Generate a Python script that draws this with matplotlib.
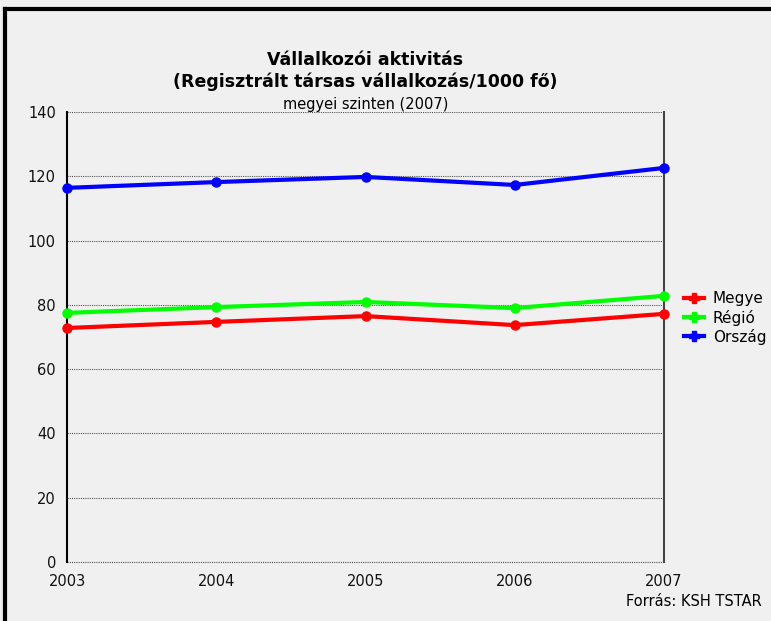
import numpy as np
import matplotlib.pyplot as plt
from matplotlib.lines import Line2D

years = [2003, 2004, 2005, 2006, 2007]
megye = [72.8, 74.7, 76.5, 73.7, 77.2]
regio = [77.5, 79.3, 80.9, 79.0, 82.8]
orszag = [116.4, 118.2, 119.8, 117.3, 122.6]
names = ['Megye', 'Régió', 'Ország']
colors = ['#ff0000', '#00ff00', '#0000ff']

fig = plt.figure(figsize=(7.71, 6.21), dpi=100, facecolor='#f0f0f0')
W, H = 771, 621
ax = fig.add_axes([67 / W, 1 - 562 / H, (664 - 67) / W, (562 - 112) / H])
ax.set_facecolor('#f0f0f0')

for vals, c in zip([megye, regio, orszag], colors):
  ax.plot(years, vals, color=c, lw=3, marker='o', ms=6.5, clip_on=False, zorder=3)

ax.set_xlim(2003, 2007)
ax.set_ylim(0, 140)
ax.set_yticks(range(0, 141, 20))
ax.set_xticks(years)
ax.grid(axis='y', color='#555555', ls=(0, (1, 1)), lw=0.8)
ax.tick_params(length=0, labelsize=10.5, colors='#111111')
ax.tick_params(axis='y', pad=8)
ax.tick_params(axis='x', pad=9)
ax.spines['top'].set_visible(False)
ax.spines['bottom'].set_visible(False)
ax.axhline(0, color='#555555', ls=(0, (1, 1)), lw=0.8, clip_on=False)
ax.spines['left'].set_color('black')
ax.spines['left'].set_linewidth(1.5)
ax.spines['right'].set_color('#444444')
ax.spines['right'].set_linewidth(1.5)

# legend
handles = [Line2D([], [], color=c, lw=3, marker='P', ms=7) for c in colors]
fig.legend(handles, names, loc='center left', bbox_to_anchor=(670 / W, 1 - 318 / H),
           frameon=False, fontsize=11, handlelength=1.3, handletextpad=0.6,
           labelspacing=0.2)

# titles
cx = 0.5 * (67 + 664) / W
fig.text(cx, 1 - 60 / H, 'Vállalkozói aktivitás', ha='center', va='center',
         fontsize=12.5, fontweight='bold')
fig.text(cx, 1 - 82 / H, '(Regisztrált társas vállalkozás/1000 fő)', ha='center',
         va='center', fontsize=12.5, fontweight='bold')
fig.text(cx, 1 - 104 / H, 'megyei szinten (2007)', ha='center', va='center',
         fontsize=10.5)
fig.text(762 / W, 1 - 602 / H, 'Forrás: KSH TSTAR', ha='right', va='center', fontsize=10.5)

# outer frame (left and top)
fig.add_artist(Line2D([5 / W, 5 / W], [0, 1 - 9 / H], color='black', lw=3))
fig.add_artist(Line2D([5 / W, 1], [1 - 9 / H, 1 - 9 / H], color='black', lw=3))

fig.savefig('out.png', dpi=100, facecolor=fig.get_facecolor())
